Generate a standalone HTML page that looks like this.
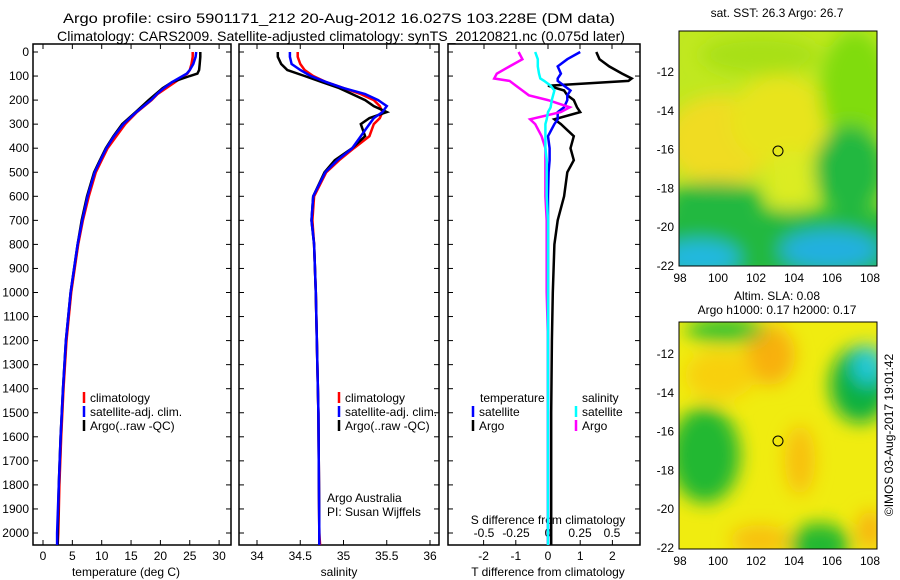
<!DOCTYPE html>
<html><head><meta charset="utf-8"><style>
html,body{margin:0;padding:0;background:#fff;}
svg{display:block;font-family:"Liberation Sans",sans-serif;}
text{font-size:12px;fill:#000;}
</style></head><body>
<svg id="c" width="900" height="580" viewBox="0 0 900 580">
<defs>
<filter id="bl" x="-20%" y="-20%" width="140%" height="140%"><feGaussianBlur stdDeviation="9"/></filter>
<clipPath id="m1c"><rect x="679" y="31" width="198" height="235"/></clipPath>
<clipPath id="m2c"><rect x="679" y="322" width="198" height="227"/></clipPath>
</defs>
<text x="339" y="23" text-anchor="middle" textLength="552" lengthAdjust="spacingAndGlyphs" style="font-size:14px">Argo profile: csiro 5901171_212 20-Aug-2012 16.027S 103.228E (DM data)</text>
<text x="341" y="41" text-anchor="middle" textLength="568" lengthAdjust="spacingAndGlyphs" style="font-size:14px">Climatology: CARS2009. Satellite-adjusted climatology: synTS_20120821.nc (0.075d later)</text>
<g id="plots"></g>
<g id="maps">
<g clip-path="url(#m1c)">
<rect x="679" y="31" width="198" height="235" fill="#c0e820"/>
<g filter="url(#bl)">
<ellipse cx="720" cy="140" rx="55" ry="45" fill="#f0dc20"/>
<ellipse cx="780" cy="120" rx="50" ry="45" fill="#e8e41a"/>
<ellipse cx="790" cy="180" rx="25" ry="30" fill="#dcec20"/>
<ellipse cx="855" cy="90" rx="35" ry="60" fill="#80dc10"/>
<ellipse cx="760" cy="55" rx="60" ry="20" fill="#a8e018"/>
<rect x="660" y="210" width="240" height="70" fill="#20b840"/>
<ellipse cx="715" cy="200" rx="50" ry="18" fill="#20b840"/>
<ellipse cx="850" cy="170" rx="35" ry="45" fill="#20b840"/>
<ellipse cx="700" cy="258" rx="40" ry="18" fill="#20b8e0"/>
<ellipse cx="830" cy="250" rx="50" ry="20" fill="#20b0e0"/>
</g>
</g>
<rect x="679" y="31" width="198" height="235" fill="none" stroke="#000"/>
<circle cx="778" cy="151" r="5" fill="none" stroke="#000"/>
<text x="777" y="17" text-anchor="middle">sat. SST: 26.3 Argo: 26.7</text>
<text x="777" y="300" text-anchor="middle">Altim. SLA: 0.08</text>
<text x="777" y="314" text-anchor="middle">Argo h1000: 0.17 h2000: 0.17</text>
<g clip-path="url(#m2c)">
<rect x="679" y="322" width="198" height="227" fill="#f0ec10"/>
<g filter="url(#bl)">
<ellipse cx="770" cy="355" rx="25" ry="30" fill="#f8b010"/>
<ellipse cx="720" cy="375" rx="35" ry="25" fill="#f8d010"/>
<ellipse cx="800" cy="460" rx="15" ry="35" fill="#f8c010"/>
<ellipse cx="860" cy="385" rx="30" ry="38" fill="#10b040"/>
<ellipse cx="868" cy="365" rx="16" ry="20" fill="#20c8d8"/>
<ellipse cx="725" cy="330" rx="40" ry="12" fill="#30c030"/>
<ellipse cx="705" cy="455" rx="35" ry="48" fill="#20b830"/>
<ellipse cx="820" cy="545" rx="30" ry="22" fill="#20b830"/>
<ellipse cx="760" cy="540" rx="30" ry="15" fill="#f8c010"/>
<ellipse cx="870" cy="530" rx="12" ry="20" fill="#f8b010"/>
</g>
</g>
<rect x="679" y="322" width="198" height="227" fill="none" stroke="#000"/>
<circle cx="778" cy="441" r="5" fill="none" stroke="#000"/>
<text x="893" y="435" text-anchor="middle" transform="rotate(-90 893 435)">©IMOS 03-Aug-2017 19:01:42</text>
<g id="mapaxes"></g>
</g>
</svg>
<script>
// ---- data ----
const tDepths=[0,20,50,75,90,100,125,150,175,200,250,300,350,400,450,500,600,700,800,900,1000,1200,1400,1600,1800,2000,2050];
const tClim=[25.5,25.5,25.3,25,24.6,24,22.5,21,19.5,18.5,16,14,12.5,11,10,9,7.8,6.8,6,5.4,4.8,4,3.5,3.1,2.8,2.6,2.5];
const tSat=[26.1,26.0,25.6,25,24.5,23.8,22,20.6,19.4,18.4,15.9,13.7,12.1,10.8,9.8,8.8,7.6,6.7,5.9,5.3,4.7,3.9,3.4,3.0,2.7,2.4,2.4];
const tArgo=[26.8,26.8,26.7,26.6,26.3,25,22,20.4,19.2,18,15.8,13.5,12,10.7,9.7,8.7,7.5,6.6,5.9,5.3,4.7,3.9,3.4,3.0,2.7,2.5,2.5];
const sDepths=[0,20,50,75,100,125,150,175,200,225,250,275,300,350,400,450,500,600,700,800,1000,1500,2000,2050];
const sClim=[34.47,34.47,34.5,34.55,34.65,34.8,35.0,35.2,35.35,35.42,35.45,35.42,35.35,35.3,35.12,34.95,34.8,34.66,34.64,34.66,34.68,34.71,34.72,34.73];
const sSat=[34.38,34.38,34.4,34.5,34.62,34.8,35.0,35.25,35.4,35.5,35.45,35.35,35.3,35.2,35.1,34.93,34.79,34.65,34.63,34.66,34.68,34.71,34.72,34.72];
const sArgo=[34.24,34.24,34.28,34.35,34.55,34.75,34.95,35.1,35.25,35.35,35.5,35.3,35.2,35.25,35.1,34.9,34.78,34.65,34.63,34.66,34.68,34.71,34.72,34.72];
const dDepths=[0,30,60,90,110,120,140,160,180,200,230,250,280,300,350,400,450,500,600,700,800,1000,1200,1500,1800,2050];
const dtArgo=[1.5,1.6,1.9,2.3,2.6,2.5,0.0,0.5,0.6,0.8,0.9,1.0,0.2,0.4,0.8,0.7,0.8,0.6,0.5,0.3,0.2,0.15,0.12,0.1,0.1,0.1];
const dtSat=[1.0,0.6,0.3,0.4,0.3,0.3,0.5,0.7,0.6,0.6,0.5,0.3,0.3,0.2,0.0,0.05,0.05,0.02,0.0,0.0,0.0,0.0,0.0,0.0,0.0,0.0];
const dsArgo=[-0.23,-0.2,-0.3,-0.4,-0.42,-0.3,-0.25,-0.2,-0.15,0.0,0.17,0.1,-0.14,-0.1,-0.05,-0.02,-0.02,-0.02,-0.02,-0.01,-0.01,-0.01,0,0,0,0];
const dsSat=[-0.1,-0.08,-0.08,-0.07,-0.06,-0.03,0.02,0.05,0.04,0.03,0.02,0.0,-0.01,-0.02,-0.02,-0.02,-0.01,-0.01,-0.01,0,0,0,0,0,0,0];
const depthTicks=[0,100,200,300,400,500,600,700,800,900,1000,1100,1200,1300,1400,1500,1600,1700,1800,1900,2000];
const tTicks=[0,5,10,15,20,25,30];
const sTicks=[34,34.5,35,35.5,36];
const sTickLabels=["34","34.5","35","35.5","36"];
const dtTicks=[-2,-1,0,1,2];
const dsTicks=[-0.5,-0.25,0,0.25,0.5];
const dsTickLabels=["-0.5","-0.25","0","0.25","0.5"];
const lonTicks=[98,100,102,104,106,108];
const latTicks=[-12,-14,-16,-18,-20,-22];

const NS='http://www.w3.org/2000/svg';
const root=document.getElementById('plots');
function mk(tag,attrs,parent){const e=document.createElementNS(NS,tag);for(const k in attrs)e.setAttribute(k,attrs[k]);(parent||root).appendChild(e);return e;}
const yD=d=>52+d*0.2405;
const xT=v=>43+v*5.87;
const xS=v=>257+(v-34)*86.5;
const xDT=v=>548+v*32.2;
const xDS=v=>548+v*128;

function frame(x0,x1,name){const r=mk('rect',{x:x0,y:44,width:x1-x0,height:501,fill:'none',stroke:'#000','stroke-width':1.5});}
frame(33,231,'temperature-panel-frame');frame(239,439,'salinity-panel-frame');frame(448,640,'difference-panel-frame');

function line(xs,ds,fx,color,name,w){
  const p=xs.map((v,i)=>fx(v).toFixed(1)+','+yD(ds[i]).toFixed(1)).join(' ');
  const e=mk('polyline',{points:p,fill:'none',stroke:color,'stroke-width':w||2.5});
  
  
}
function text(x,y,s,anchor,name,size){const t=mk('text',{x:x,y:y,'text-anchor':anchor||'start'});if(size)t.style.fontSize=size+'px';t.textContent=s;return t;}
function tick(x1,y1,x2,y2){const e=mk('line',{x1,y1,x2,y2,stroke:'#000','stroke-width':1});}

depthTicks.forEach(d=>{const y=yD(d);text(29,y+4,String(d),'end','depth-tick-label');
  [[33,231],[239,439],[448,640]].forEach(([a,b])=>{tick(a,y,a+5,y);tick(b-5,y,b,y);});});
tTicks.forEach(v=>{const x=xT(v);tick(x,545,x,540);tick(x,44,x,49);text(x,560,String(v),'middle','temp-tick-label');});
text(126,576,'temperature (deg C)','middle','temperature-axis-title');
line(tClim,tDepths,xT,'#f00','temp-climatology');
line(tArgo,tDepths,xT,'#000','temp-argo');
line(tSat,tDepths,xT,'#00f','temp-satellite');
sTicks.forEach((v,i)=>{const x=xS(v);tick(x,545,x,540);tick(x,44,x,49);text(x,560,sTickLabels[i],'middle','sal-tick-label');});
text(339,576,'salinity','middle','salinity-axis-title');
line(sClim,sDepths,xS,'#f00','sal-climatology');
line(sArgo,sDepths,xS,'#000','sal-argo');
line(sSat,sDepths,xS,'#00f','sal-satellite');
dtTicks.forEach(v=>{const x=xDT(v);tick(x,545,x,540);text(x,560,String(v),'middle','dt-tick-label');});
dsTicks.forEach((v,i)=>{const x=xDS(v);tick(x,44,x,49);text(x,537,dsTickLabels[i],'middle','ds-tick-label');});
text(548,576,'T difference from climatology','middle','dt-axis-title');
text(548,524,'S difference from climatology','middle','ds-axis-title');
line(dtArgo,dDepths,xDT,'#000','dt-argo');
line(dtSat,dDepths,xDT,'#00f','dt-satellite');
line(dsArgo,dDepths,xDS,'#f0f','ds-argo');
line(dsSat,dDepths,xDS,'#0ff','ds-satellite');
function leg(x,y,color,label,name){const e=mk('line',{x1:x,y1:y-10,x2:x,y2:y+1,stroke:color,'stroke-width':2.5});text(x+6,y,label,'start',name);}
[[0,'#f00','climatology'],[1,'#00f','satellite-adj. clim.'],[2,'#000','Argo(..raw -QC)']].forEach(([i,c,l])=>{leg(84,402+i*14,c,l,'temp-legend-entry');leg(339,402+i*14,c,l,'sal-legend-entry');});
text(480,402,'temperature','start','dt-legend-header');text(582,402,'salinity','start','ds-legend-header');
leg(473,416,'#00f','satellite','dt-legend-satellite');leg(473,430,'#000','Argo','dt-legend-argo');
leg(576,416,'#0ff','satellite','ds-legend-satellite');leg(576,430,'#f0f','Argo','ds-legend-argo');
text(327,502,'Argo Australia','start','credit-line1');text(327,516,'PI: Susan Wijffels','start','credit-line2');
const xLon=v=>680+(v-98)*19;
[[31,266,72],[322,549,354]].forEach(([top,bot,y12])=>{
  const yLat=v=>y12+(-12-v)*19.4;
  lonTicks.forEach(v=>{const x=xLon(v);tick(x,bot,x,bot-4);tick(x,top,x,top+4);text(x,bot+16,String(v),'middle','lon-tick-label');});
  latTicks.forEach(v=>{const y=yLat(v);tick(679,y,683,y);tick(873,y,877,y);text(674,y+4,String(v),'end','lat-tick-label');});
});
</script>
</body></html>
